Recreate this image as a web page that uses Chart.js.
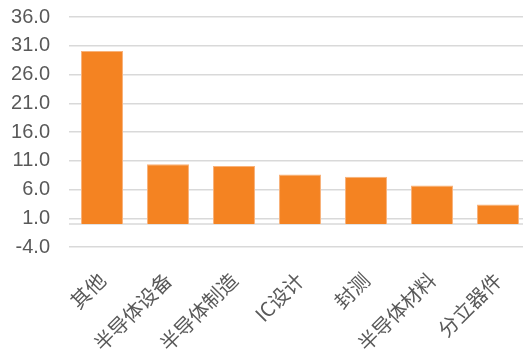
<!DOCTYPE html>
<html>
<head>
<meta charset="utf-8">
<script src="https://cdn.jsdelivr.net/npm/chart.js@4/dist/chart.umd.min.js"></script>
<style>
  html, body { margin: 0; padding: 0; background: #fff; overflow: hidden; }
  #wrap { width: 540px; height: 367px; position: absolute; left: 0; top: -14px; }
</style>
</head>
<body>
<div id="wrap"><canvas id="myChart"></canvas></div>
<script>
const categories = ['其他', '半导体设备', '半导体制造', 'IC设计', '封测', '半导体材料', '分立器件'];
const values = [30.1, 10.4, 10.1, 8.6, 8.2, 6.7, 3.4];
const yMin = -4, yMax = 36, yStep = 5;

// zero line drawn through the y scale
const zeroLine = {
    id: 'zeroLine',
    beforeDatasetsDraw(chart) {
        const { ctx, chartArea, scales } = chart;
        const y = scales.y.getPixelForValue(0);
        ctx.save();
        ctx.strokeStyle = '#d9d9d9';
        ctx.lineWidth = 1.5;
        ctx.beginPath();
        ctx.moveTo(chartArea.left, y);
        ctx.lineTo(chartArea.right, y);
        ctx.stroke();
        ctx.restore();
    }
};

const ctx = document.getElementById('myChart').getContext('2d');
new Chart(ctx, {
    type: 'bar',
    data: {
        labels: categories,
        datasets: [{
            data: values,
            backgroundColor: '#F48322',
            borderColor: '#F8B27A',
            borderWidth: 1,
            categoryPercentage: 1,
            barPercentage: 0.636
        }]
    },
    options: {
        responsive: true,
        maintainAspectRatio: false,
        animation: false,
        layout: { padding: { top: 4, right: 9, left: 0, bottom: 0 } },
        plugins: { legend: { display: false }, tooltip: { enabled: false } },
        scales: {
            x: {
                grid: { display: false, drawTicks: false },
                border: { display: false },
                afterFit: s => { s.height = 106; },
                ticks: {
                    color: '#595959',
                    font: { family: '"Noto Sans CJK SC", "Liberation Sans", sans-serif', size: 20 },
                    minRotation: 45,
                    maxRotation: 45,
                    autoSkip: false,
                    padding: 21
                }
            },
            y: {
                min: yMin,
                max: yMax,
                grid: { color: '#d9d9d9', lineWidth: 1.5, drawTicks: false },
                border: { display: false },
                afterFit: s => { s.width = 69; },
                ticks: {
                    stepSize: yStep,
                    autoSkip: false,
                    color: '#595959',
                    padding: 19,
                    font: { family: '"Liberation Sans", Arial, sans-serif', size: 20 },
                    callback: v => v.toFixed(1)
                }
            }
        }
    },
    plugins: [zeroLine]
});
</script>
</body>
</html>
